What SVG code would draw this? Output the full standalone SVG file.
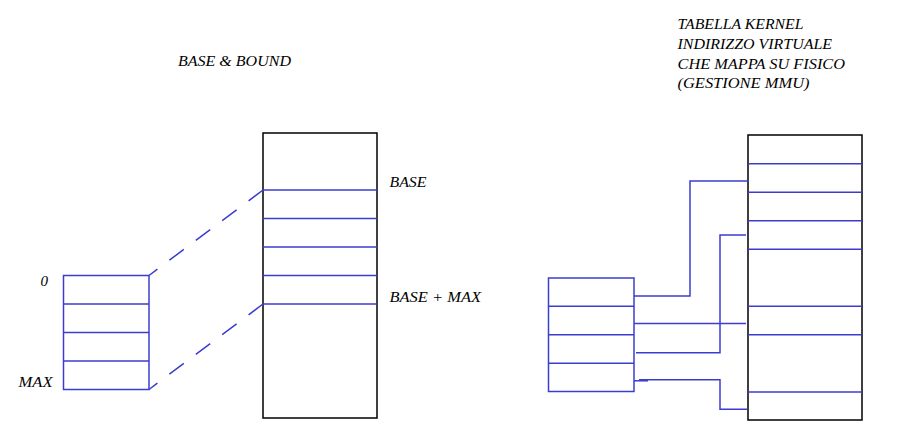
<svg xmlns="http://www.w3.org/2000/svg" width="905" height="445" viewBox="0 0 905 445">
<style>
text{font-family:"Liberation Serif","Times New Roman",serif;font-style:italic;font-size:15px;fill:#000}
.blk{fill:none;stroke:#000;stroke-width:1.5}
.bl{fill:none;stroke:#3c3cd0;stroke-width:1.5}
.dash{fill:none;stroke:#3c3cd0;stroke-width:1.5;stroke-dasharray:18 15}
</style>
<rect width="905" height="445" fill="#fff"/>
<g id="title-left"><text x="178" y="65.7" textLength="113" lengthAdjust="spacingAndGlyphs">BASE &amp; BOUND</text></g>
<g id="title-right">
<text x="677.5" y="29.3" textLength="126" lengthAdjust="spacingAndGlyphs">TABELLA KERNEL</text>
<text x="677.5" y="49" textLength="154.5" lengthAdjust="spacingAndGlyphs">INDIRIZZO VIRTUALE</text>
<text x="677.5" y="68.7" textLength="167.5" lengthAdjust="spacingAndGlyphs">CHE MAPPA SU FISICO</text>
<text x="677.5" y="88.3" textLength="132" lengthAdjust="spacingAndGlyphs">(GESTIONE MMU)</text>
</g>
<g id="virtual-left">
<rect class="bl" x="63.5" y="275.5" width="85.5" height="114"/>
<path class="bl" d="M63.5,304H149M63.5,332.5H149M63.5,361H149"/>
<text x="40.5" y="285.7">0</text>
<text x="18.5" y="386.5" textLength="34" lengthAdjust="spacingAndGlyphs">MAX</text>
</g>
<g id="physical-left">
<rect class="blk" x="263" y="133" width="114" height="285"/>
<path class="bl" d="M263,190H377M263,218.5H377M263,247H377M263,275.5H377M263,304H377"/>
<text x="389.5" y="187.3" textLength="37" lengthAdjust="spacingAndGlyphs">BASE</text>
<text x="389.5" y="301.8" textLength="91.5" lengthAdjust="spacingAndGlyphs">BASE + MAX</text>
</g>
<g id="virtual-right">
<rect class="bl" x="548.5" y="278" width="85.5" height="113.5"/>
<path class="bl" d="M548.5,306.3H634M548.5,334.8H634M548.5,363.2H634"/>
</g>
<g id="physical-right">
<rect class="blk" x="748" y="135" width="114" height="285"/>
<path class="bl" d="M748,163.8H862M748,192.3H862M748,220.8H862M748,249.2H862M748,306.3H862M748,334.8H862M748,392H862"/>
</g>
<g id="connectors">
<path class="dash" d="M263,190L149,275.5"/>
<path class="dash" d="M263,304L149,389.5"/>
<path class="bl" d="M634,296H690V181H749"/>
<path class="bl" d="M634,323.5H746"/>
<path class="bl" d="M636,352.8H720V235H746"/>
<path class="bl" d="M634,380.8H648"/>
<path class="bl" d="M639,379.8H720V409.3H747"/>
</g>
</svg>
